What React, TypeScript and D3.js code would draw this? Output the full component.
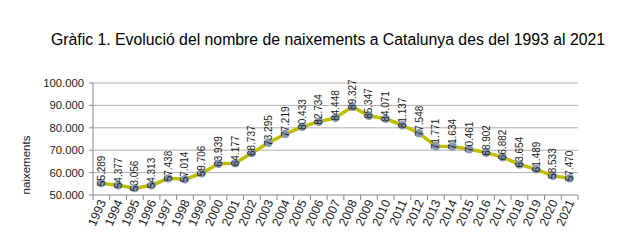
import React from "react";
import * as d3 from "d3";

const years = ["1993","1994","1995","1996","1997","1998","1999","2000","2001","2002","2003","2004","2005","2006","2007","2008","2009","2010","2011","2012","2013","2014","2015","2016","2017","2018","2019","2020","2021"];
const births = [55289,54377,53056,54313,57438,57014,59706,63939,64177,68737,73295,77219,80433,82734,84448,89327,85347,84071,81137,77548,71771,71634,70461,68902,66882,63654,61489,58533,57470];
const yTicks = [50000,60000,70000,80000,90000,100000];

const fmt = (v: number) => d3.format(",")(v).replace(/,/g, ".");

export default function App() {
  const W = 633, H = 245;
  const x = d3.scaleBand<string>().domain(years).range([93, 578]);
  const y = d3.scaleLinear().domain([50000, 100000]).range([195, 83]);
  const line = d3.line<number>().x((_, i) => x(years[i])! + x.bandwidth() / 2).y(d => y(d));
  const font = "Arial, 'Liberation Sans', sans-serif";
  return (
    <svg width={W} height={H} style={{ position: "absolute", left: 0, top: 0, background: "#fff" }} fontFamily={font}>
      <text x={328} y={45} fontSize={15.8} textAnchor="middle" fill="#000">Gràfic 1. Evolució del nombre de naixements a Catalunya des del 1993 al 2021</text>
      {yTicks.map(t => (
        <g key={t}>
          {t > 50000 && <line x1={93} x2={578} y1={y(t)} y2={y(t)} stroke="#b0b0b0" strokeWidth={1} />}
          <line x1={89} x2={93} y1={y(t)} y2={y(t)} stroke="#888" />
          <text x={84} y={y(t) + 4} fontSize={11.3} textAnchor="end" fill="#222">{fmt(t)}</text>
        </g>
      ))}
      <line x1={93} x2={93} y1={83} y2={195} stroke="#888" />
      <line x1={93} x2={578} y1={195} y2={195} stroke="#888" />
      {years.concat(["end"]).map((_, i) => {
        const xx = 93 + i * x.step();
        return <line key={i} x1={xx} x2={xx} y1={195} y2={200} stroke="#888" />;
      })}
      {years.map(yr => {
        const cx = x(yr)! + x.bandwidth() / 2;
        return (
          <text key={yr} transform={`translate(${cx + 5},${202}) rotate(-66)`} fontSize={12.3} textAnchor="end" fill="#222">{yr}</text>
        );
      })}
      <text transform={`translate(30,165) rotate(-90)`} fontSize={11.5} textAnchor="middle" fill="#222">naixements</text>
      <path d={line(births)!} fill="none" stroke="#bfbf00" strokeWidth={3.5} strokeLinejoin="round" />
      {births.map((v, i) => (
        <circle key={i} cx={x(years[i])! + x.bandwidth() / 2} cy={y(v)} r={4.2} fill="#8497b0" />
      ))}
      {births.map((v, i) => {
        const cx = x(years[i])! + x.bandwidth() / 2;
        return (
          <text key={"l" + i} transform={`translate(${cx + 3.5},${y(v) + 3}) rotate(-90)`} fontSize={10} textAnchor="start" fill="#222">{fmt(v)}</text>
        );
      })}
    </svg>
  );
}
